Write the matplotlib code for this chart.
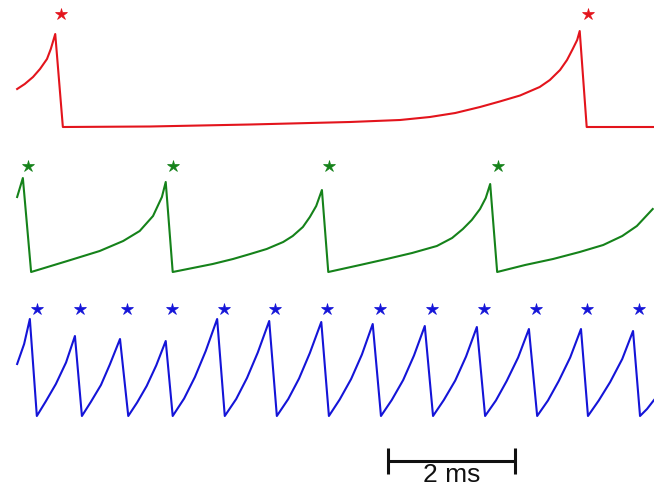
import matplotlib
matplotlib.use("Agg")
import matplotlib.pyplot as plt

# ---- data (time in ms, membrane potential in mV) ----
red_t = [0.27, 0.39, 0.52, 0.63, 0.74, 0.80, 0.87,
         0.99, 2.36, 3.94, 5.51, 6.30, 6.77, 7.17, 7.56, 7.87, 8.19, 8.50, 8.66, 8.82,
         8.93, 9.02, 9.09, 9.13, 9.24, 10.30]
red_v = [-62.4, -61.4, -60.0, -58.4, -56.4, -54.4, -51.4,
         -70.0, -69.9, -69.5, -69.0, -68.6, -68.0, -67.2, -66.0, -64.9, -63.7, -62.0, -60.6, -58.6,
         -56.6, -54.4, -52.6, -50.8, -70.0, -70.0]
red_spikes = [0.96, 9.26]

green_t = [0.27, 0.36, 0.49,
           1.06, 1.57, 1.94, 2.20, 2.41, 2.55, 2.61, 2.72,
           3.35, 3.67, 3.94, 4.20, 4.46, 4.61, 4.77, 4.88, 4.98, 5.07, 5.17,
           5.67, 6.09, 6.49, 6.88, 7.12, 7.29, 7.43, 7.56, 7.65, 7.72, 7.83,
           8.27, 8.71, 9.13, 9.50, 9.80, 10.03, 10.28]
green_v = [-55.0, -51.2, -70.0,
           -67.8, -65.8, -63.8, -61.8, -58.8, -55.0, -52.0, -70.0,
           -68.4, -67.4, -66.4, -65.4, -64.0, -62.8, -61.0, -59.0, -56.8, -53.6, -70.0,
           -68.6, -67.4, -66.2, -64.8, -63.2, -61.4, -59.6, -57.4, -55.2, -52.4, -70.0,
           -68.6, -67.4, -66.0, -64.6, -62.8, -60.8, -57.4]
green_spikes = [0.44, 2.72, 5.18, 7.84]

blue_t = [0.27, 0.38, 0.47, 0.58,
          0.72, 0.88, 1.04, 1.18, 1.29,
          1.43, 1.59, 1.73, 1.89, 2.02,
          2.16, 2.31, 2.46, 2.61, 2.72,
          2.90, 3.07, 3.24, 3.42, 3.54,
          3.72, 3.89, 4.06, 4.24, 4.36,
          4.54, 4.71, 4.88, 5.06, 5.18,
          5.35, 5.53, 5.70, 5.87, 6.00,
          6.17, 6.35, 6.52, 6.69, 6.82,
          6.99, 7.17, 7.34, 7.51, 7.64,
          7.81, 7.98, 8.16, 8.33, 8.46,
          8.63, 8.80, 8.98, 9.15, 9.26,
          9.43, 9.61, 9.80, 9.97, 10.08,
          10.19, 10.30]
blue_v = [-59.6, -55.6, -50.6, -70.0,
          -67.1, -63.6, -59.3, -54.0, -70.0,
          -67.2, -63.8, -59.7, -54.6, -70.0,
          -67.3, -64.0, -59.9, -55.0, -70.0,
          -66.5, -62.2, -57.0, -50.6, -70.0,
          -66.6, -62.4, -57.3, -51.0, -70.0,
          -66.6, -62.5, -57.4, -51.2, -70.0,
          -66.7, -62.6, -57.7, -51.6, -70.0,
          -66.8, -62.8, -57.9, -52.0, -70.0,
          -66.8, -62.9, -58.1, -52.2, -70.0,
          -66.9, -63.0, -58.3, -52.6, -70.0,
          -66.9, -63.0, -58.3, -52.6, -70.0,
          -66.9, -63.2, -58.6, -53.0, -70.0,
          -68.6, -66.8]
blue_spikes = [0.58, 1.26, 2.00, 2.71, 3.53, 4.33, 5.15, 5.98, 6.80, 7.62, 8.44, 9.24, 10.06]

scale_len = 2.0
scale_label = "2 ms"

# ---- drawing ----
fig = plt.figure(figsize=(6.54, 4.89), dpi=100)
ax = fig.add_axes([0, 0, 1, 1])
ax.set_xlim(0, 10.30)
ax.set_ylim(-97.8, 0)
ax.axis("off")

traces = [
    (red_t, red_v, red_spikes, "#e3141c", 44.4, -47.4),
    (green_t, green_v, green_spikes, "#15821a", 15.4, -48.8),
    (blue_t, blue_v, blue_spikes, "#1414d8", -13.4, -48.6),
]
for t, v, spk, col, off, star_v in traces:
    ax.plot(t, [x + off for x in v], color=col, lw=1.5, solid_joinstyle="round")
    ax.plot(spk, [star_v + off] * len(spk), linestyle="none", marker="*",
            markersize=9, color=col, markeredgewidth=0.5)

x0 = 6.11
ybar = -92.4
ax.plot([x0, x0 + scale_len], [ybar, ybar], color="#111111", lw=2.2, solid_capstyle="butt")
for xc in (x0, x0 + scale_len):
    ax.plot([xc, xc], [ybar - 2.6, ybar + 2.6], color="#111111", lw=2.2, solid_capstyle="butt")
ax.text(x0 + scale_len / 2, -97.5, scale_label, ha="center", va="bottom",
        fontsize=19, family="Liberation Sans", color="#111111")

fig.savefig("out.png", dpi=100)
